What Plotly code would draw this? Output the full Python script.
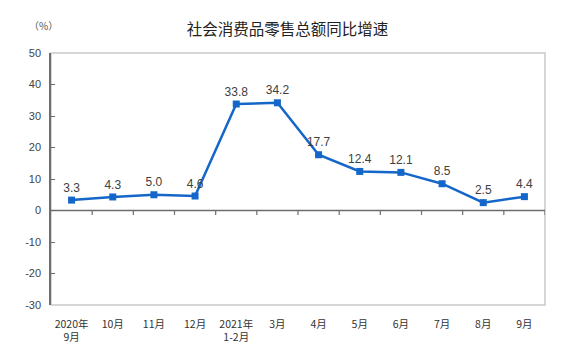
import plotly.graph_objects as go

categories = ["2020年<br>9月", "10月", "11月", "12月", "2021年<br>1-2月", "3月",
              "4月", "5月", "6月", "7月", "8月", "9月"]
values = [3.3, 4.3, 5.0, 4.6, 33.8, 34.2, 17.7, 12.4, 12.1, 8.5, 2.5, 4.4]
y_ticks = [-30, -20, -10, 0, 10, 20, 30, 40, 50]
y_tick_text = ["-30", "-20", "-10", "0", "10", "20", "30", "40", "50"]
title_text = "社会消费品零售总额同比增速"
unit_text = "（%）"

FONT = "Noto Sans CJK SC, DejaVu Sans, sans-serif"
BLUE = "#1467c8"
DARK = "#6e6e6e"
LIGHT = "#c9c9c9"

xs = list(range(len(categories)))

fig = go.Figure()
fig.add_trace(go.Scatter(
    x=xs, y=values, mode="lines+markers+text",
    line=dict(color=BLUE, width=2.5),
    marker=dict(symbol="square", size=7, color=BLUE),
    text=[f"{v:.1f}" for v in values],
    textposition="top center",
    textfont=dict(family="Liberation Sans, Arial, sans-serif", size=12, color="#404040"),
    cliponaxis=False,
    hoverinfo="skip",
))

shapes = []
shapes.append(dict(type="rect", xref="paper", yref="paper", x0=0, x1=1, y0=0, y1=1,
                   line=dict(color=LIGHT, width=1.5), layer="below"))
shapes.append(dict(type="line", xref="paper", yref="y", x0=0, x1=1, y0=0, y1=0,
                   line=dict(color=DARK, width=1.5)))
for i in range(len(categories)):
    shapes.append(dict(type="line", xref="x", yref="y", x0=i + 0.5, x1=i + 0.5,
                       y0=0, y1=-1.4, line=dict(color=DARK, width=1.2)))

fig.update_layout(
    width=559, height=356,
    margin=dict(l=43, r=22, t=45, b=59),
    paper_bgcolor="white", plot_bgcolor="white",
    showlegend=False,
    shapes=shapes,
    title=dict(text=title_text, x=0.5, xanchor="center", y=0.938, yref="container",
               yanchor="middle",
               font=dict(family=FONT, size=15.5, color="#222222")),
    annotations=[dict(text=unit_text, xref="paper", yref="paper", x=-0.016, y=1.111,
                      xanchor="center", yanchor="middle", showarrow=False,
                      font=dict(family=FONT, size=10, color="#555555"))],
    xaxis=dict(
        range=[-0.5, len(categories) - 0.5],
        tickmode="array", tickvals=xs, ticktext=categories,
        showgrid=False, zeroline=False, showline=False,
        ticks="outside", ticklen=9, tickcolor="rgba(0,0,0,0)",
        tickfont=dict(family=FONT, size=10.5, color="#333333"),
        tickangle=0, automargin=False,
    ),
    yaxis=dict(
        range=[-30, 50],
        tickmode="array", tickvals=y_ticks, ticktext=y_tick_text,
        showgrid=False, zeroline=False,
        showline=True, linecolor=DARK, linewidth=1.5,
        ticks="inside", ticklen=4, tickcolor=DARK,
        ticklabelstandoff=6, automargin=False,
        tickfont=dict(family="Liberation Sans, Arial, sans-serif", size=11, color="#444444"),
    ),
)

fig.write_html("out.html")
